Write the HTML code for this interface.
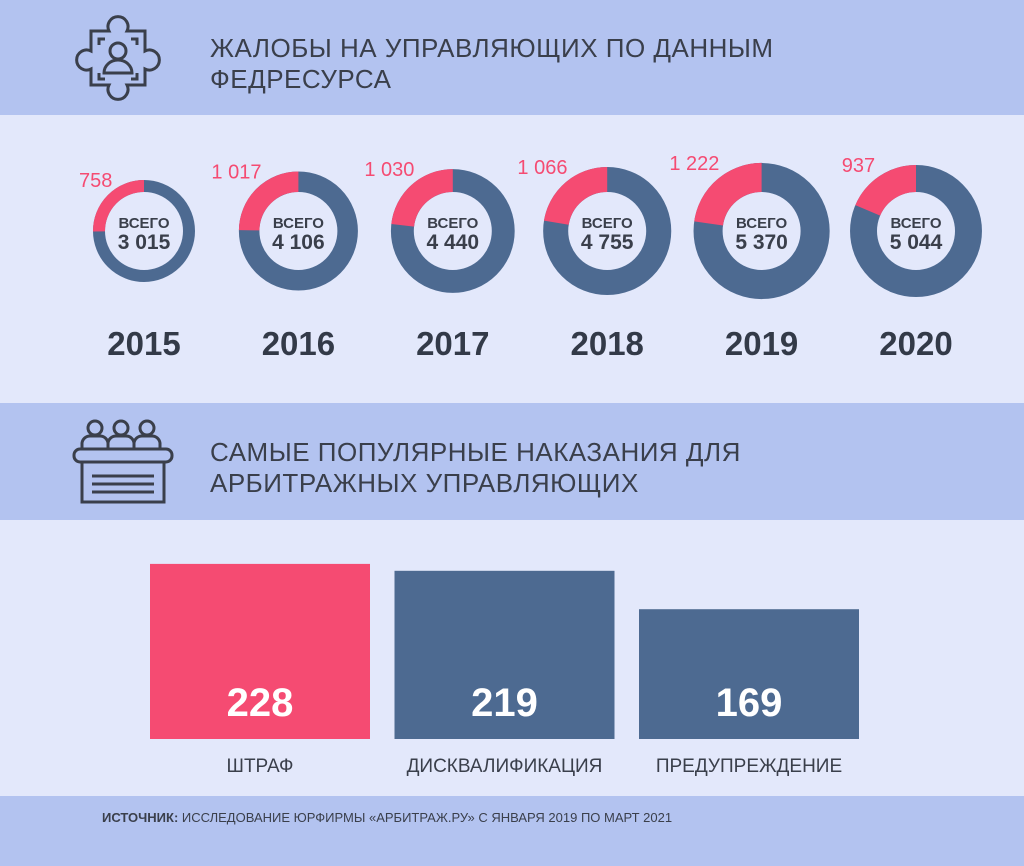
<!DOCTYPE html>
<html><head><meta charset="utf-8"><style>
body{margin:0;width:1024px;height:866px;overflow:hidden;font-family:"Liberation Sans","DejaVu Sans",sans-serif;background:#e3e8fb;position:relative}
.band{position:absolute;left:0;width:1024px;background:#b3c3f0}
.title{position:absolute;left:210px;font-size:26px;line-height:31px;color:#3a3f4b;letter-spacing:0.5px}
</style></head><body>
<div class="band" style="top:0;height:115px"></div>
<div class="band" style="top:403px;height:117px"></div>
<div class="band" style="top:796px;height:70px"></div>
<svg style="position:absolute;left:75px;top:15px" width="90" height="90" fill="none" stroke="#3a3f4b" stroke-width="3">
<path d="M16 16 H34 a10 10 0 1 1 18 0 H70 V36 a10 10 0 1 1 0 18 V70 H52 a10 10 0 1 1 -18 0 H16 V54 a10 10 0 1 1 0 -18 Z"/>
<path d="M24 30 v-6 h6 M56 24 h6 v6 M62 58 v6 h-6 M30 64 h-6 v-6"/>
<circle cx="43" cy="36" r="8"/><path d="M29 58 a14 13 0 0 1 28 0 Z"/></svg>
<div class="title" style="top:33px">ЖАЛОБЫ НА УПРАВЛЯЮЩИХ ПО ДАННЫМ<br>ФЕДРЕСУРСА</div>
<svg style="position:absolute;left:70px;top:415px" width="110" height="95" fill="none" stroke="#3a3f4b" stroke-width="3">
<circle cx="25" cy="13" r="7"/><circle cx="51" cy="13" r="7"/><circle cx="77" cy="13" r="7"/>
<path d="M12 34 v-6 a8 8 0 0 1 8 -7 h10 a8 8 0 0 1 8 7 v6 M38 34 v-6 a8 8 0 0 1 8 -7 h10 a8 8 0 0 1 8 7 v6 M64 34 v-6 a8 8 0 0 1 8 -7 h10 a8 8 0 0 1 8 7 v6"/>
<rect x="4" y="34" width="98" height="13" rx="6"/><rect x="12" y="47" width="82" height="40"/>
<path d="M22 61 h62 M22 69 h62 M22 77 h62"/></svg>
<div class="title" style="top:437px">САМЫЕ ПОПУЛЯРНЫЕ НАКАЗАНИЯ ДЛЯ<br>АРБИТРАЖНЫХ УПРАВЛЯЮЩИХ</div>
<div style="position:absolute;left:102px;top:810px;font-size:13px;color:#3a3f4b"><b>ИСТОЧНИК:</b> ИССЛЕДОВАНИЕ ЮРФИРМЫ «АРБИТРАЖ.РУ» С ЯНВАРЯ 2019 ПО МАРТ 2021</div>
<svg id="donuts" style="position:absolute;left:0;top:0" width="1024" height="866"></svg>
<script>
const years=["2015","2016","2017","2018","2019","2020"];
const totals=[3015,4106,4440,4755,5370,5044];
const parts=[758,1017,1030,1066,1222,937];
const penaltyCats=["ШТРАФ","ДИСКВАЛИФИКАЦИЯ","ПРЕДУПРЕЖДЕНИЕ"];
const penaltyVals=[228,219,169];
const fmt=n=>String(n).replace(/\B(?=(\d{3})+(?!\d))/g," ");
const NS="http://www.w3.org/2000/svg";
const svg=document.getElementById('donuts');
function mk(t,a){const e=document.createElementNS(NS,t);for(const k in a)e.setAttribute(k,a[k]);svg.appendChild(e);return e;}
const xPos=i=>144+i*154.4;
const rOf=v=>51*Math.sqrt(v/3015);
years.forEach((y,i)=>{
 const cx=xPos(i),cy=231,r=rOf(totals[i]),inner=39,w=r-inner,rm=(r+inner)/2;
 const c=mk('circle',{cx,cy,r:rm,fill:'none',stroke:'#4d6a91','stroke-width':w});
 
 
 const a=2*Math.PI*parts[i]/totals[i];
 const x1=cx-rm*Math.sin(a),y1=cy-rm*Math.cos(a);
 const p=mk('path',{d:`M${cx} ${cy-rm} A${rm} ${rm} 0 ${a>Math.PI?1:0} 0 ${x1} ${y1}`,fill:'none',stroke:'#f54b72','stroke-width':w});
 
 
 const t1=mk('text',{x:cx,y:cy-3,'text-anchor':'middle','font-size':15,fill:'#3a3f4b','font-weight':'bold'});t1.textContent='ВСЕГО';
 
 
 const t2=mk('text',{x:cx,y:cy+18,'text-anchor':'middle','font-size':21,fill:'#3a3f4b','font-weight':'bold'});t2.textContent=fmt(totals[i]);
 
 
 const t3=mk('text',{x:cx-r*0.62,y:cy-r+7,'text-anchor':'end','font-size':20,fill:'#f54b72'});t3.textContent=fmt(parts[i]);
 
 
 const t4=mk('text',{x:cx,y:355,'text-anchor':'middle','font-size':33,'font-weight':'bold',fill:'#333a48'});t4.textContent=y;
 
 
});
const base=739,scale=0.768;
penaltyVals.forEach((v,i)=>{
 const x=150+i*244.5,h=v*scale;
 const b=mk('rect',{x,y:base-h,width:220,height:h,fill:i==0?'#f54b72':'#4d6a91'});
 
 
 const t=mk('text',{x:x+110,y:716,'text-anchor':'middle','font-size':40,'font-weight':'bold',fill:'#fff'});t.textContent=v;
 
 
 const c=mk('text',{x:x+110,y:772,'text-anchor':'middle','font-size':19,fill:'#3a3f4b'});c.textContent=penaltyCats[i];
 
 
});
</script>
</body></html>
